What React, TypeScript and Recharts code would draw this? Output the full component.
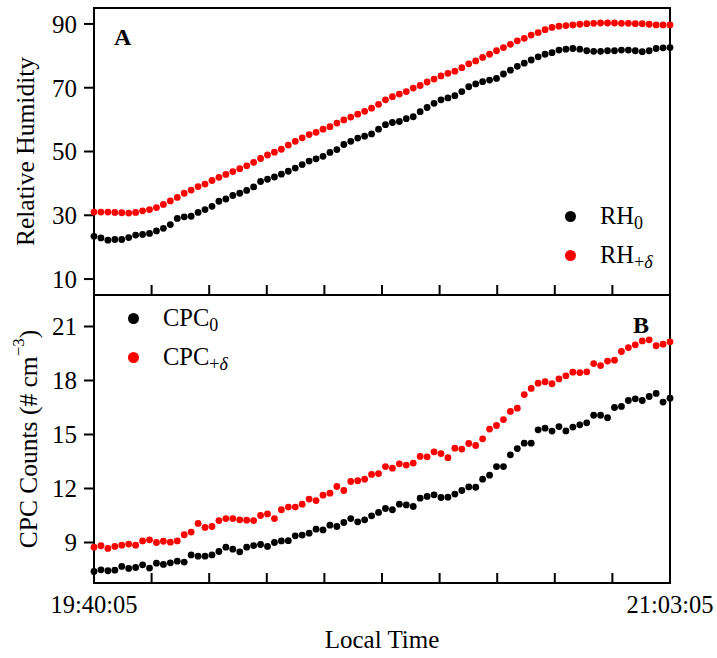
import { ScatterChart, Scatter, XAxis, YAxis, ReferenceArea, Legend, Label } from 'recharts'

const FONT = "'Liberation Serif', 'Times New Roman', serif"

// one sample per minute, starting 19:40:05
const RH_0 = [
  23.4, 22.9, 22.2, 22.4, 22.4, 23.0, 23.8, 24.0, 24.3, 25.1, 25.9, 27.1, 29.0, 29.5, 29.7, 30.9,
  31.8, 32.8, 34.4, 35.1, 36.2, 36.9, 37.8, 38.9, 40.6, 41.3, 42.0, 42.9, 43.8, 44.8, 45.9, 47.0,
  47.7, 48.5, 49.7, 50.6, 52.2, 53.2, 54.2, 54.8, 55.5, 57.0, 58.4, 59.1, 59.4, 60.3, 60.9, 62.5,
  63.8, 65.1, 66.2, 66.8, 67.5, 68.8, 70.3, 71.2, 71.9, 72.4, 72.9, 74.3, 75.5, 76.7, 77.7, 78.7,
  79.7, 80.5, 81.0, 81.8, 82.1, 82.3, 82.1, 81.6, 81.4, 81.4, 81.6, 81.6, 81.8, 81.8, 81.6, 81.3,
  81.6, 82.3, 82.5, 82.6,
]
const RH_D = [
  31.0, 31.0, 31.0, 30.9, 30.8, 30.7, 30.9, 31.4, 31.8, 32.4, 33.4, 34.5, 35.6, 36.9, 37.9, 39.0,
  39.8, 40.9, 41.9, 42.8, 43.7, 44.6, 45.5, 46.6, 47.8, 48.9, 49.8, 50.7, 52.0, 53.2, 54.3, 55.3,
  56.0, 57.0, 57.8, 58.9, 59.9, 60.8, 61.7, 62.6, 63.6, 64.8, 66.2, 67.2, 68.0, 68.8, 69.9, 70.7,
  71.8, 72.7, 73.7, 74.5, 75.2, 76.3, 77.5, 78.4, 79.5, 80.5, 81.6, 82.6, 83.6, 84.7, 85.5, 86.5,
  87.3, 88.2, 88.9, 89.3, 89.5, 89.7, 89.9, 90.1, 90.2, 90.3, 90.3, 90.3, 90.2, 90.2, 90.1, 90.1,
  89.9, 89.7, 89.7, 89.7,
]
const CPC_0 = [
  7.39, 7.48, 7.43, 7.46, 7.67, 7.56, 7.61, 7.76, 7.58, 7.85, 7.78, 7.87, 7.96, 7.91, 8.31, 8.24,
  8.24, 8.31, 8.5, 8.74, 8.63, 8.48, 8.74, 8.83, 8.89, 8.78, 9.0, 9.09, 9.1, 9.37, 9.41, 9.52,
  9.74, 9.7, 9.96, 9.89, 10.11, 10.33, 10.15, 10.26, 10.48, 10.67, 10.89, 10.82, 11.13, 11.09, 11.0, 11.46,
  11.56, 11.65, 11.5, 11.52, 11.69, 11.89, 12.09, 12.07, 12.52, 12.74, 13.22, 13.22, 13.87, 14.22, 14.52, 14.52,
  15.26, 15.35, 15.19, 15.44, 15.2, 15.41, 15.54, 15.65, 16.07, 16.07, 15.93, 16.5, 16.56, 16.89, 16.98, 16.89,
  17.11, 17.28, 16.8, 17.02,
]
const CPC_D = [
  8.74, 8.82, 8.67, 8.78, 8.85, 8.91, 8.85, 9.09, 9.15, 9.0, 9.07, 9.02, 9.09, 9.43, 9.58, 10.06,
  9.84, 9.89, 10.22, 10.33, 10.33, 10.26, 10.24, 10.22, 10.5, 10.59, 10.33, 10.82, 10.97, 10.97, 11.13, 11.41,
  11.33, 11.63, 11.74, 12.11, 11.89, 12.39, 12.43, 12.52, 12.78, 12.83, 13.22, 13.13, 13.37, 13.3, 13.41, 13.78,
  13.76, 14.04, 13.94, 13.71, 14.24, 14.19, 14.5, 14.39, 14.76, 15.3, 15.5, 15.83, 16.28, 16.46, 17.22, 17.56,
  17.85, 17.93, 17.82, 18.09, 18.26, 18.46, 18.44, 18.48, 18.94, 18.83, 19.08, 19.13, 19.61, 19.83, 19.98, 20.2,
  20.26, 19.93, 20.02, 20.15,
]

// minutes since 19:40:05
const MINUTES = RH_0.map((_, i) => i)
const X_TICKS = [0, 8.3, 16.6, 24.9, 33.2, 41.5, 49.8, 58.1, 66.4, 74.7, 83]
const X_TICK_LABELS = ['19:40:05', '', '', '', '', '', '', '', '', '', '21:03:05']
const RH_TICKS = [10, 30, 50, 70, 90]
const CPC_TICKS = [9, 12, 15, 18, 21]

const toPoints = (vals: number[]) => vals.map((v, i) => ({ t: MINUTES[i], v }))

function Dot(color: string) {
  return (p: any) => <circle cx={p.cx} cy={p.cy} r={3.4} fill={color} />
}

function XTick({ x, y, payload, showLabels }: any) {
  const idx = X_TICKS.indexOf(payload.value)
  const label = showLabels ? X_TICK_LABELS[idx] : ''
  return (
    <g>
      <line x1={x} x2={x} y1={y} y2={y - 10} stroke="#000" strokeWidth={2} />
      {label ? (
        <text x={x} y={y + 30} textAnchor="middle" fontSize={24.5} fontFamily={FONT} fill="#000">
          {label}
        </text>
      ) : null}
    </g>
  )
}

function LegendBox({ items }: { items: { color: string; base: string; sub: React.ReactNode }[] }) {
  return (
    <div style={{ fontFamily: FONT, fontSize: 24.5, color: '#000' }}>
      {items.map((it, i) => (
        <div key={i} style={{ display: 'flex', alignItems: 'center', height: 39, lineHeight: '39px' }}>
          <span
            style={{ width: 11, height: 11, borderRadius: '50%', background: it.color, marginRight: 24, display: 'inline-block' }}
          />
          <span>
            {it.base}
            <span style={{ fontSize: 18, position: 'relative', top: 5 }}>{it.sub}</span>
          </span>
        </div>
      ))}
    </div>
  )
}

const tickStyle = { fontSize: 25, fontFamily: FONT, fill: '#000' }
const axisLine = { stroke: '#000', strokeWidth: 2 }

function YTitle({ viewBox, x, children }: any) {
  const cy = viewBox.y + viewBox.height / 2
  return (
    <text
      transform={`translate(${x},${cy}) rotate(-90)`}
      textAnchor="middle"
      dominantBaseline="central"
      fontSize={25.5}
      fontFamily={FONT}
      fill="#000"
    >
      {children}
    </text>
  )
}

export default function App() {
  return (
    <div style={{ position: 'absolute', left: 0, top: 0, width: 717, height: 658, background: '#fff' }}>
      <div style={{ position: 'absolute', left: 0, top: 0 }}>
        <ScatterChart width={717} height={300} margin={{ top: 8, right: 47, bottom: 0, left: 0 }}>
          <XAxis
            type="number"
            dataKey="t"
            domain={[0, 83]}
            ticks={X_TICKS}
            interval={0}
            height={5}
            tickSize={0}
            tickMargin={0}
            tickLine={false}
            axisLine={axisLine}
            tick={<XTick showLabels={false} />}
          />
          <YAxis
            type="number"
            dataKey="v"
            domain={[5, 95]}
            ticks={RH_TICKS}
            interval={0}
            width={94}
            tickSize={10}
            tickMargin={7}
            tickLine={axisLine}
            axisLine={axisLine}
            tick={tickStyle}
          >
            <Label content={(p: any) => <YTitle viewBox={p.viewBox} x={25}>Relative Humidity</YTitle>} />
          </YAxis>
          <ReferenceArea x1={0} x2={83} y1={5} y2={95} fill="none" stroke="#000" strokeWidth={2}>
            <Label value="A" position="insideTopLeft" offset={20} fontSize={24} fontWeight="bold" fontFamily={FONT} fill="#000" />
          </ReferenceArea>
          <Scatter data={toPoints(RH_0)} shape={Dot('#000')} isAnimationActive={false} />
          <Scatter data={toPoints(RH_D)} shape={Dot('#ff0000')} isAnimationActive={false} />
          <Legend
            layout="horizontal"
            verticalAlign="middle"
            align="center"
            wrapperStyle={{ left: 565, top: 197, width: 'auto' }}
            content={() => (
              <LegendBox
                items={[
                  { color: '#000', base: 'RH', sub: '0' },
                  { color: '#ff0000', base: 'RH', sub: <>+<i>δ</i></> },
                ]}
              />
            )}
          />
        </ScatterChart>
      </div>
      <div style={{ position: 'absolute', left: 0, top: 290 }}>
        <ScatterChart width={717} height={368} margin={{ top: 5, right: 47, bottom: 0, left: 0 }}>
          <XAxis
            type="number"
            dataKey="t"
            domain={[0, 83]}
            ticks={X_TICKS}
            interval={0}
            height={75}
            tickSize={0}
            tickMargin={0}
            tickLine={false}
            axisLine={axisLine}
            tick={<XTick showLabels />}
          >
            <Label
              content={(p: any) => (
                <text
                  x={p.viewBox.x + p.viewBox.width / 2}
                  y={p.viewBox.y + 65}
                  textAnchor="middle"
                  fontSize={25}
                  fontFamily={FONT}
                  fill="#000"
                >
                  Local Time
                </text>
              )}
            />
          </XAxis>
          <YAxis
            type="number"
            dataKey="v"
            domain={[6.75, 22.75]}
            ticks={CPC_TICKS}
            interval={0}
            width={94}
            tickSize={10}
            tickMargin={7}
            tickLine={axisLine}
            axisLine={axisLine}
            tick={tickStyle}
          >
            <Label
              content={(p: any) => (
                <YTitle viewBox={p.viewBox} x={28}>
                  CPC Counts (# cm
                  <tspan dy={-10} fontSize={17}>−3</tspan>
                  <tspan dy={10}>)</tspan>
                </YTitle>
              )}
            />
          </YAxis>
          <ReferenceArea x1={0} x2={83} y1={6.75} y2={22.75} fill="none" stroke="#000" strokeWidth={2}>
            <Label value="B" position="insideTopRight" offset={21} fontSize={24} fontWeight="bold" fontFamily={FONT} fill="#000" />
          </ReferenceArea>
          <Scatter data={toPoints(CPC_0)} shape={Dot('#000')} isAnimationActive={false} />
          <Scatter data={toPoints(CPC_D)} shape={Dot('#ff0000')} isAnimationActive={false} />
          <Legend
            layout="horizontal"
            verticalAlign="middle"
            align="center"
            wrapperStyle={{ left: 128, top: 9, width: 'auto' }}
            content={() => (
              <LegendBox
                items={[
                  { color: '#000', base: 'CPC', sub: '0' },
                  { color: '#ff0000', base: 'CPC', sub: <>+<i>δ</i></> },
                ]}
              />
            )}
          />
        </ScatterChart>
      </div>
    </div>
  )
}
